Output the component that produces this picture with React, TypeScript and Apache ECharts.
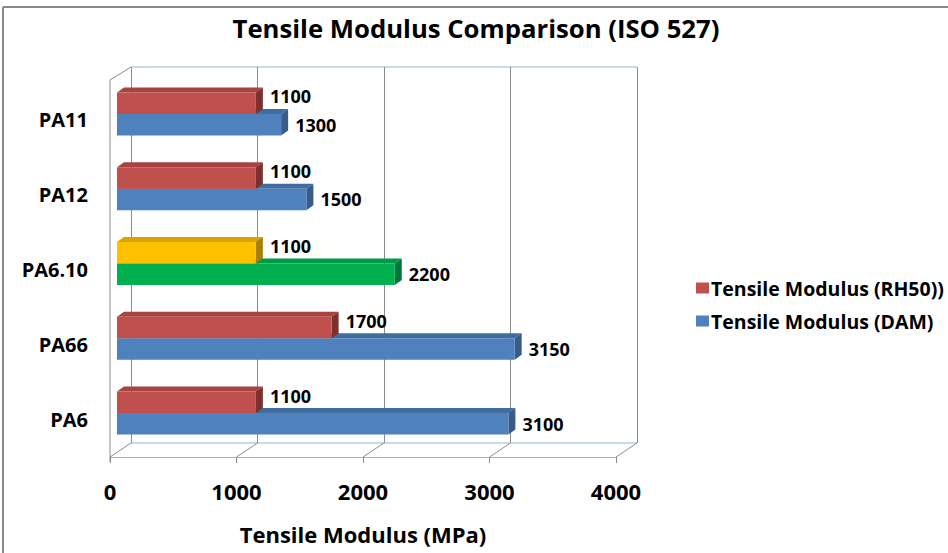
import React, { useEffect, useRef } from "react";
import * as echarts from "echarts";

// Categories listed bottom -> top (ECharts category axis runs upward)
const CATEGORIES = ["PA6", "PA66", "PA6.10", "PA12", "PA11"];
const RH50_VALUES = [1100, 1700, 1100, 1100, 1100];
const DAM_VALUES = [3100, 3150, 2200, 1500, 1300];
const X_TICKS = [0, 1000, 2000, 3000, 4000];
const SERIES_NAMES = ["Tensile Modulus (RH50))", "Tensile Modulus (DAM)"];
const HIGHLIGHT_CATEGORY = "PA6.10";

const FONT = '"Open Sans", "DejaVu Sans", sans-serif';
const BAR_H = 21.5;
const DX = 7;
const DY = 5;

const PALETTE = {
  red: { front: "#C0504D", top: "#A8433F", side: "#7F302D" },
  blue: { front: "#4F81BD", top: "#416C9E", side: "#375C89" },
  yellow: { front: "#FFC000", top: "#D9A300", side: "#A98000" },
  green: { front: "#00B050", top: "#009A45", side: "#00773A" },
};

function colorsFor(seriesIdx: number, cat: string) {
  if (cat === HIGHLIGHT_CATEGORY) return seriesIdx === 0 ? PALETTE.yellow : PALETTE.green;
  return seriesIdx === 0 ? PALETTE.red : PALETTE.blue;
}

function makeRender(seriesIdx: number) {
  return (params: any, api: any) => {
    const v = api.value(0);
    const idx = api.value(1);
    const end = api.coord([v, idx]);
    const start = api.coord([0, idx]);
    const xe = end[0];
    const cy = end[1];
    const x0 = start[0];
    const y0 = seriesIdx === 0 ? cy - BAR_H : cy;
    const y1 = y0 + BAR_H;
    const c = colorsFor(seriesIdx, CATEGORIES[idx]);
    return {
      type: "group",
      children: [
        {
          type: "polygon",
          shape: { points: [[x0, y0], [x0 + DX, y0 - DY], [xe + DX, y0 - DY], [xe, y0]] },
          style: { fill: c.top },
        },
        {
          type: "polygon",
          shape: { points: [[xe, y0], [xe + DX, y0 - DY], [xe + DX, y1 - DY], [xe, y1]] },
          style: { fill: c.side },
        },
        {
          type: "rect",
          shape: { x: x0, y: y0, width: xe - x0, height: BAR_H },
          style: { fill: c.front },
        },
        {
          type: "text",
          x: xe + DX + 7,
          y: seriesIdx === 0 ? y0 + 4 : cy + BAR_H / 2,
          style: {
            text: String(v),
            fill: "#000",
            fontFamily: FONT,
            fontWeight: "bold",
            fontSize: 18,
            align: "left",
            verticalAlign: "middle",
          },
        },
      ],
    };
  };
}

const GRAY = "#8C8C8C";
const LIGHT_BLUE = "#95B3D7";

// 3D frame geometry (decoration)
const BACK = { left: 131, right: 637, top: 67, bottom: 443 };
const FRONT = { left: 110, right: 616, top: 80, bottom: 457 };
const PLOT = { left: 117, top: 76.5, width: 505, height: 374 };
const LABEL_SHIFT = 6;

function frameGraphics() {
  const els: any[] = [];
  const line = (x1: number, y1: number, x2: number, y2: number, color: string) => ({
    type: "line",
    shape: { x1, y1, x2, y2 },
    style: { stroke: color, lineWidth: 1 },
    silent: true,
    z: 0,
  });
  // outer border (top & left)
  els.push({ type: "line", shape: { x1: 3, y1: 7, x2: 948, y2: 7 }, style: { stroke: "#8A8A8A", lineWidth: 2 }, silent: true });
  els.push({ type: "line", shape: { x1: 3, y1: 7, x2: 3, y2: 553 }, style: { stroke: "#8A8A8A", lineWidth: 2 }, silent: true });
  // back wall top & floor back edge
  els.push(line(BACK.left, BACK.top, BACK.right, BACK.top, LIGHT_BLUE));
  els.push(line(BACK.left, BACK.bottom, BACK.right, BACK.bottom, LIGHT_BLUE));
  // left wall
  els.push(line(FRONT.left, FRONT.top, BACK.left, BACK.top, GRAY));
  els.push(line(FRONT.left, FRONT.top, FRONT.left, FRONT.bottom + 5, GRAY));
  // floor diagonals
  const n = X_TICKS.length - 1;
  X_TICKS.forEach((t, i) => {
    const fx = FRONT.left + ((FRONT.right - FRONT.left) * i) / n;
    const bx = BACK.left + ((BACK.right - BACK.left) * i) / n;
    els.push(line(fx, FRONT.bottom, bx, BACK.bottom, GRAY));
  });
  return els;
}

export default function App() {
  const ref = useRef<HTMLDivElement>(null);
  useEffect(() => {
    if (!ref.current) return;
    const chart = echarts.init(ref.current, null, { renderer: "svg" });
    const option: any = {
      animation: false,
      backgroundColor: "#fff",
      title: {
        text: "Tensile Modulus Comparison (ISO 527)",
        left: 476,
        textAlign: "center",
        top: 15,
        padding: 0,
        textStyle: { fontFamily: FONT, fontWeight: "bold", fontSize: 25.7, color: "#000" },
      },
      legend: {
        orient: "vertical",
        left: 691,
        top: 273,
        itemWidth: 13,
        itemHeight: 11,
        itemGap: 13,
        icon: "rect",
        data: SERIES_NAMES,
        textStyle: { fontFamily: FONT, fontWeight: "bold", fontSize: 19.5, color: "#000", lineHeight: 20, padding: [0, 0, 0, -3] },
      },
      grid: [
        { left: PLOT.left, top: PLOT.top, width: PLOT.width, height: PLOT.height },
        { left: BACK.left, top: BACK.top, width: BACK.right - BACK.left, height: BACK.bottom - BACK.top },
        { left: FRONT.left, top: FRONT.bottom - 1, width: FRONT.right - FRONT.left, height: 1 },
        { left: PLOT.left, top: PLOT.top + LABEL_SHIFT, width: PLOT.width, height: PLOT.height },
      ],
      xAxis: [
        { gridIndex: 0, type: "value", min: 0, max: 4000, show: false },
        {
          gridIndex: 1,
          type: "value",
          min: 0,
          max: 4000,
          interval: 1000,
          axisLine: { show: false },
          axisTick: { show: false },
          axisLabel: { show: false },
          splitLine: { show: true, lineStyle: { color: GRAY, width: 1 } },
        },
        {
          gridIndex: 2,
          type: "value",
          min: 0,
          max: 4000,
          interval: 1000,
          position: "bottom",
          axisLine: { show: true, lineStyle: { color: LIGHT_BLUE, width: 1 } },
          axisTick: { show: true, length: 6, lineStyle: { color: GRAY } },
          splitLine: { show: false },
          axisLabel: {
            margin: 23,
            color: "#000",
            fontFamily: FONT,
            fontWeight: "bold",
            fontSize: 22,
            formatter: (v: number) => String(v),
          },
          name: "Tensile Modulus (MPa)",
          nameLocation: "middle",
          nameGap: 66,
          nameTextStyle: { fontFamily: FONT, fontWeight: "bold", fontSize: 22, color: "#000" },
        },
        { gridIndex: 3, type: "value", min: 0, max: 4000, show: false },
      ],
      yAxis: [
        { gridIndex: 0, type: "category", data: CATEGORIES, show: false },
        { gridIndex: 1, type: "value", show: false, splitLine: { show: false } },
        { gridIndex: 2, type: "value", show: false, splitLine: { show: false } },
        {
          gridIndex: 3,
          type: "category",
          data: CATEGORIES,
          axisLine: { show: false },
          axisTick: { show: false },
          splitLine: { show: false },
          axisLabel: {
            margin: 29,
            color: "#000",
            fontFamily: FONT,
            fontWeight: "bold",
            fontSize: 20,
          },
        },
      ],
      graphic: frameGraphics(),
      series: [
        {
          name: SERIES_NAMES[1],
          type: "custom",
          xAxisIndex: 0,
          yAxisIndex: 0,
          z: 3,
          itemStyle: { color: PALETTE.blue.front },
          encode: { x: 0, y: 1 },
          data: DAM_VALUES.map((v, i) => [v, i]),
          renderItem: makeRender(1),
        },
        {
          name: SERIES_NAMES[0],
          type: "custom",
          xAxisIndex: 0,
          yAxisIndex: 0,
          z: 4,
          itemStyle: { color: PALETTE.red.front },
          encode: { x: 0, y: 1 },
          data: RH50_VALUES.map((v, i) => [v, i]),
          renderItem: makeRender(0),
        },
      ],
    };
    chart.setOption(option);
    return () => chart.dispose();
  }, []);
  return (
    <div
      ref={ref}
      style={{ position: "absolute", left: 0, top: 0, width: 948, height: 553 }}
    />
  );
}
